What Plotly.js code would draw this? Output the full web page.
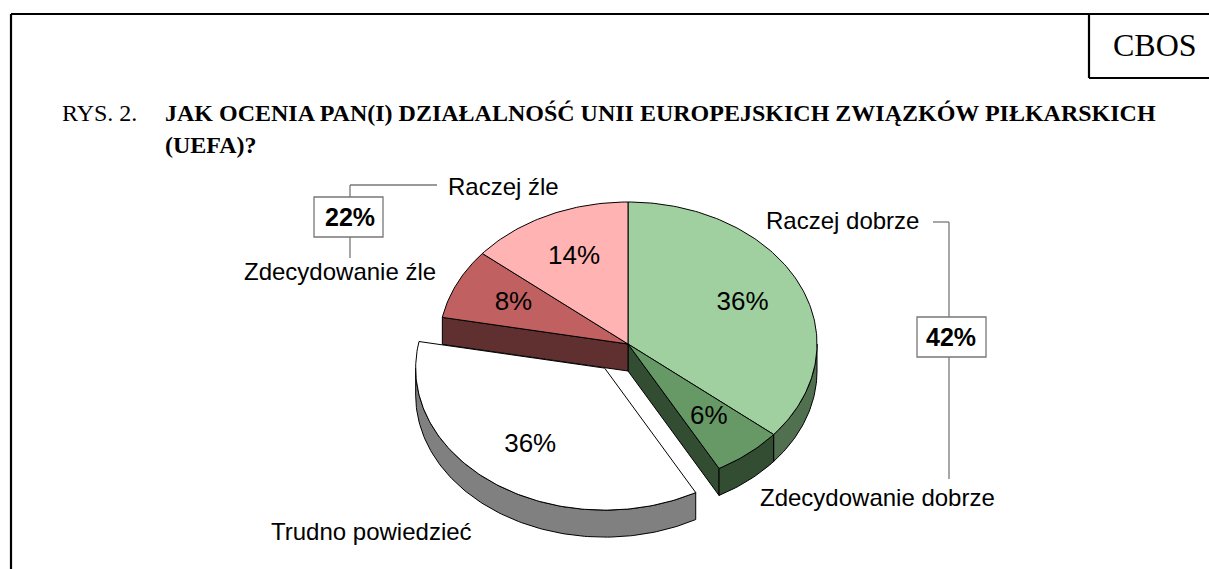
<!DOCTYPE html>
<html>
<head>
<meta charset="utf-8">
<script src="https://cdn.plot.ly/plotly-3.0.1.min.js"></script>
<style>
html,body{margin:0;padding:0;background:#ffffff;overflow:hidden}
#chart{width:1209px;height:569px}
</style>
</head>
<body>
<div id="chart"></div>
<script>
// ---- data ----
const categories = ["Raczej dobrze", "Zdecydowanie dobrze", "Trudno powiedzieć", "Zdecydowanie źle", "Raczej źle"];
const values = [36, 6, 36, 8, 14];
const positiveGroup = [0, 1];   // Raczej dobrze + Zdecydowanie dobrze
const negativeGroup = [3, 4];   // Zdecydowanie źle + Raczej źle
const titlePrefix = "RYS. 2.";
const titleLines = ["JAK OCENIA PAN(I) DZIAŁALNOŚĆ UNII EUROPEJSKICH ZWIĄZKÓW PIŁKARSKICH", "(UEFA)?"];

// ---- style / geometry ----
const topColors  = ["#a0d0a0", "#669966", "#ffffff", "#c06060", "#ffb3b3"];
const sideColors = ["#507050", "#334d33", "#808080", "#603030", "#805a5a"];
const pulls = [0, 0, 0.21, 0, 0];
const PIE = {cx: 628, cy: 344, rx: 189, ry: 142, depth: 27, labelR: 0.67};
const labelPos = [
  {x: 842, y: 220},
  {x: 877, y: 497},
  {x: 371, y: 531},
  {x: 340, y: 271},
  {x: 503, y: 186}
];

const SANS = "Liberation Sans, Arial, sans-serif";
const SERIF = "Liberation Serif, Times New Roman, serif";

const total = values.reduce((a, b) => a + b, 0);
const n = values.length;
const traces = [];
const cutFaces = [], walls = [], tops = [];
const txtX = [], txtY = [], txtT = [];

function P(o, t, dy) {
  return [o[0] + PIE.rx * Math.sin(t), o[1] - PIE.ry * Math.cos(t) + (dy || 0)];
}
function poly(pts, fill) {
  return {
    type: "scatter", mode: "lines",
    x: pts.map(p => p[0]), y: pts.map(p => p[1]),
    fill: "toself", fillcolor: fill,
    line: {color: "#000000", width: 1},
    hoverinfo: "skip", showlegend: false
  };
}

let cum = 0;
values.forEach((v, i) => {
  const t0 = cum / total * 2 * Math.PI;
  const t1 = (cum + v) / total * 2 * Math.PI;
  cum += v;
  const mid = (t0 + t1) / 2;
  const o = [PIE.cx + pulls[i] * PIE.rx * Math.sin(mid), PIE.cy - pulls[i] * PIE.ry * Math.cos(mid)];
  const D = PIE.depth;
  // radial cut faces: only exposed where the neighbouring slice is pulled out
  if (!pulls[i]) {
    const prev = (i - 1 + n) % n, next = (i + 1) % n;
    if (pulls[prev]) {
      cutFaces.push(poly([o, P(o, t0), P(o, t0, D), [o[0], o[1] + D], o], sideColors[i]));
    }
    if (pulls[next]) {
      cutFaces.push(poly([o, P(o, t1), P(o, t1, D), [o[0], o[1] + D], o], sideColors[i]));
    }
  }
  // outer wall (front half only)
  const a = Math.max(t0, Math.PI / 2), b = Math.min(t1, 3 * Math.PI / 2);
  if (a < b) {
    const m = Math.max(4, Math.ceil((b - a) / (Math.PI / 180)));
    const up = [], dn = [];
    for (let k = 0; k <= m; k++) {
      const t = a + (b - a) * k / m;
      up.push(P(o, t));
      dn.push(P(o, t, D));
    }
    walls.push(poly(up.concat(dn.reverse(), [up[0]]), sideColors[i]));
  }
  // top face
  const m2 = Math.max(4, Math.ceil((t1 - t0) / (Math.PI / 180)));
  const arc = [];
  for (let k = 0; k <= m2; k++) arc.push(P(o, t0 + (t1 - t0) * k / m2));
  tops.push(poly([o].concat(arc, [o]), topColors[i]));
  // percent label
  txtX.push(o[0] + PIE.labelR * PIE.rx * Math.sin(mid));
  txtY.push(o[1] - PIE.labelR * PIE.ry * Math.cos(mid));
  txtT.push(Math.round(v / total * 100) + "%");
});

traces.push(...cutFaces, ...walls, ...tops);
traces.push({
  type: "scatter", mode: "text", x: txtX, y: txtY, text: txtT,
  textposition: "middle center",
  textfont: {family: SANS, size: 26, color: "#000000"},
  hoverinfo: "skip", showlegend: false, cliponaxis: false
});

const sumOf = idx => idx.reduce((s, k) => s + values[k], 0);

const annotations = categories.map((c, i) => ({
  x: labelPos[i].x, y: labelPos[i].y, xref: "x", yref: "y",
  text: c, showarrow: false, xanchor: "center", yanchor: "middle",
  font: {family: SANS, size: 24, color: "#000000"}
}));
annotations.push(
  {x: 350, y: 217, xref: "x", yref: "y", text: "<b>" + sumOf(negativeGroup) + "%</b>", showarrow: false,
   xanchor: "center", yanchor: "middle", font: {family: SANS, size: 25, color: "#000"}},
  {x: 951, y: 337, xref: "x", yref: "y", text: "<b>" + sumOf(positiveGroup) + "%</b>", showarrow: false,
   xanchor: "center", yanchor: "middle", font: {family: SANS, size: 25, color: "#000"}},
  {x: 60, y: 113, xref: "x", yref: "y", text: titlePrefix, showarrow: false,
   xanchor: "left", yanchor: "middle", font: {family: SERIF, size: 24, color: "#000"}},
  {x: 163, y: 113, xref: "x", yref: "y", text: "<b>" + titleLines[0] + "</b>", showarrow: false,
   xanchor: "left", yanchor: "middle", font: {family: SERIF, size: 24, color: "#000"}},
  {x: 163, y: 145, xref: "x", yref: "y", text: "<b>" + titleLines[1] + "</b>", showarrow: false,
   xanchor: "left", yanchor: "middle", font: {family: SERIF, size: 24, color: "#000"}},
  {x: 1155, y: 45, xref: "x", yref: "y", text: "CBOS", showarrow: false,
   xanchor: "center", yanchor: "middle", font: {family: SERIF, size: 32, color: "#000"}}
);

const G = {color: "#777777", width: 1.3};
const K = {color: "#000000", width: 2.2};
const shapes = [
  // frame
  {type: "line", xref: "x", yref: "y", x0: 11, y0: 14, x1: 1220, y1: 14, line: K},
  {type: "line", xref: "x", yref: "y", x0: 11, y0: 14, x1: 11, y1: 580, line: K},
  // CBOS box
  {type: "line", xref: "x", yref: "y", x0: 1089, y0: 14, x1: 1089, y1: 78, line: K},
  {type: "line", xref: "x", yref: "y", x0: 1089, y0: 78, x1: 1220, y1: 78, line: K},
  // 22% bracket
  {type: "line", xref: "x", yref: "y", x0: 437, y0: 185, x1: 350, y1: 185, line: G},
  {type: "line", xref: "x", yref: "y", x0: 350, y0: 185, x1: 350, y1: 197, line: G},
  {type: "rect", xref: "x", yref: "y", x0: 314, y0: 197, x1: 383, y1: 237, line: G, fillcolor: "#ffffff"},
  {type: "line", xref: "x", yref: "y", x0: 350, y0: 237, x1: 350, y1: 258, line: G},
  // 42% bracket
  {type: "line", xref: "x", yref: "y", x0: 933, y0: 222, x1: 949, y1: 222, line: G},
  {type: "line", xref: "x", yref: "y", x0: 949, y0: 222, x1: 949, y1: 317, line: G},
  {type: "rect", xref: "x", yref: "y", x0: 917, y0: 317, x1: 986, y1: 357, line: G, fillcolor: "#ffffff"},
  {type: "line", xref: "x", yref: "y", x0: 949, y0: 357, x1: 949, y1: 479, line: G}
];

const layout = {
  width: 1209, height: 569,
  margin: {l: 0, r: 0, t: 0, b: 0},
  paper_bgcolor: "#ffffff", plot_bgcolor: "#ffffff",
  xaxis: {range: [0, 1209], visible: false, fixedrange: true},
  yaxis: {range: [569, 0], visible: false, fixedrange: true},
  showlegend: false,
  shapes: shapes,
  annotations: annotations
};

Plotly.newPlot("chart", traces, layout, {staticPlot: true, displayModeBar: false});
</script>
</body>
</html>
